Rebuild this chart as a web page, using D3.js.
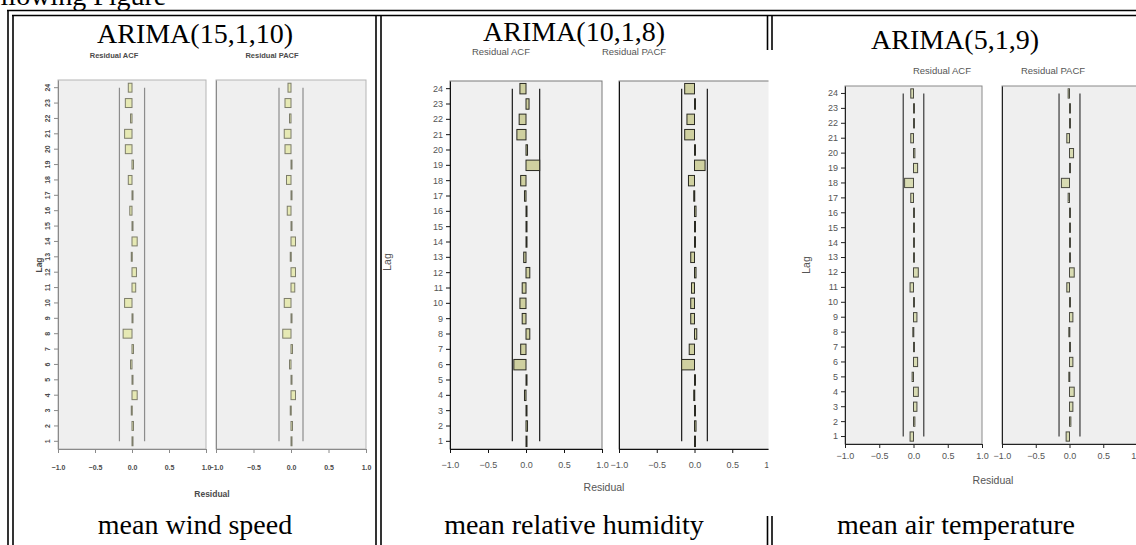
<!DOCTYPE html>
<html>
<head>
<meta charset="utf-8">
<script src="https://cdn.jsdelivr.net/npm/d3@7"></script>
<style>
  body { margin: 0; background: #fff; }
  svg { display: block; }
</style>
</head>
<body>
<div id="chart"></div>
<script>
// lags on the y axis of every panel
var lags = [1, 2, 3, 4, 5, 6, 7, 8, 9, 10, 11, 12, 13, 14, 15, 16, 17, 18, 19, 20, 21, 22, 23, 24];
var xTicks = [-1.0, -0.5, 0.0, 0.5, 1.0];

var modelNames = ["ARIMA(15,1,10)", "ARIMA(10,1,8)", "ARIMA(5,1,9)"];
var variableNames = ["mean wind speed", "mean relative humidity", "mean air temperature"];
var panelTitles = ["Residual ACF", "Residual PACF"];

// residual ACF / PACF values, lag 1 ... lag 24
var windAcf = [0.01, 0.02, -0.01, 0.07, 0.01, -0.02, 0.02, -0.12, 0.01, -0.10, 0.05, 0.06,
               -0.01, 0.07, 0.01, -0.03, 0.01, -0.05, 0.02, -0.09, -0.10, -0.02, -0.09, -0.05];
var windPacf = [0.01, 0.02, -0.01, 0.06, 0.01, -0.02, 0.02, -0.11, 0.01, -0.09, 0.05, 0.06,
                -0.01, 0.06, 0.01, -0.05, 0.01, -0.06, 0.01, -0.08, -0.09, -0.02, -0.08, -0.04];
var humAcf = [0.01, 0.02, 0.01, -0.02, 0.01, -0.16, -0.07, 0.05, -0.05, -0.08, -0.05, 0.05,
              -0.03, 0.01, 0.01, 0.01, -0.02, -0.07, 0.18, 0.02, -0.12, -0.09, 0.04, -0.08];
var humPacf = [0.01, 0.02, 0.01, -0.01, 0.01, -0.17, -0.07, 0.03, -0.05, -0.05, -0.04, 0.02,
               -0.05, 0.01, 0.01, 0.02, -0.01, -0.08, 0.14, 0.01, -0.13, -0.10, 0.01, -0.13];
var tempAcf = [-0.05, 0.02, 0.05, 0.07, -0.02, 0.06, 0.01, -0.01, 0.05, 0.01, -0.05, 0.07,
               0.01, 0.01, 0.01, 0.01, -0.04, -0.13, 0.06, 0.02, -0.04, 0.01, 0.01, -0.04];
var tempPacf = [-0.05, 0.02, 0.05, 0.07, -0.01, 0.05, 0.01, -0.01, 0.05, 0.01, -0.04, 0.07,
                0.01, 0.01, 0.01, 0.01, -0.02, -0.12, 0.01, 0.06, -0.04, 0.01, 0.01, -0.02];

// upper confidence limits (ACF, PACF), drawn at +/-
var windConf = [0.17, 0.16];
var humConf = [0.18, 0.17];
var tempConf = [0.15, 0.155];

var W = 1136, H = 545;

var svg = d3.select("#chart")
    .append("svg")
    .attr("width", W)
    .attr("height", H);

var serif = "'Liberation Serif', 'Times New Roman', serif";
var sans = "'Liberation Sans', Arial, sans-serif";

// text of the page above the table, partly cut off on the left
svg.append("text")
    .attr("x", -29)
    .attr("y", 5)
    .style("font-family", serif)
    .style("font-size", "28px")
    .text("Following Figure");

// double border lines of the table
function line(x1, y1, x2, y2) {
    svg.append("line")
        .attr("x1", x1).attr("y1", y1).attr("x2", x2).attr("y2", y2)
        .attr("stroke", "#000")
        .attr("stroke-width", 1.6);
}
line(7, 10.5, W, 10.5);
line(12, 15.5, W, 15.5);
line(8, 10, 8, H);
line(13, 15, 13, H);
line(376, 15.5, 376, H);
line(381, 15.5, 381, H);
line(767.5, 15.5, 767.5, 50);
line(772, 15.5, 772, 50);
line(767.5, 516, 767.5, H);
line(772, 516, 772, H);

var charts = [
    {
        acf: windAcf, pacf: windPacf, conf: windConf,
        acfX: [58, 206], pacfX: [216, 366], top: 80, bottom: 449,
        modelX: 195, modelY: 43, captionX: 195,
        titleY: 58, titleX: [114, 272], titleSize: 7.5, bold: true,
        lagTitle: [39, 265], tickY: 467, tickSize: 7, residual: [212, 494],
        rotateLags: true, pad: 0.42,
        panelFill: "#efefef", frame: "#b5b5b5", axis: "#8a8a8a",
        barFill: "#e6e9b4", barStroke: "#7d7d6a", confColor: "#8c8c8c",
        textColor: "#4a4a4a", clip: [14, 376]
    },
    {
        acf: humAcf, pacf: humPacf, conf: humConf,
        acfX: [450, 602], pacfX: [619, 770], top: 81, bottom: 449,
        modelX: 574, modelY: 41, captionX: 574,
        titleY: 55, titleX: [501, 634], titleSize: 9.5, bold: false,
        lagTitle: [387, 262], tickY: 465, tickSize: 9, residual: [604, 487],
        rotateLags: false, pad: 0.32,
        panelFill: "#f0f0f0", frame: "#7a7a7a", axis: "#111",
        barFill: "#cfd0a0", barStroke: "#2a2a22", confColor: "#1a1a1a",
        textColor: "#555", clip: [382, 768.5]
    },
    {
        acf: tempAcf, pacf: tempPacf, conf: tempConf,
        acfX: [845, 982], pacfX: [1002, 1137], top: 86, bottom: 444,
        modelX: 955, modelY: 49, captionX: 956,
        titleY: 74, titleX: [942, 1053], titleSize: 9.5, bold: false,
        lagTitle: [806, 265], tickY: 456, tickSize: 9, residual: [993, 480],
        rotateLags: false, pad: 0.38,
        panelFill: "#efefef", frame: "#8a8a8a", axis: "#222",
        barFill: "#d8dbb2", barStroke: "#4a4a40", confColor: "#3a3a3a",
        textColor: "#555", clip: [773, W]
    }
];

charts.forEach(function (c, i) {

    // cell title and caption
    svg.append("text")
        .attr("x", c.modelX).attr("y", c.modelY)
        .attr("text-anchor", "middle")
        .style("font-family", serif)
        .style("font-size", "28px")
        .text(modelNames[i]);

    svg.append("text")
        .attr("x", c.captionX).attr("y", 534)
        .attr("text-anchor", "middle")
        .style("font-family", serif)
        .style("font-size", "28px")
        .text(variableNames[i]);

    svg.append("clipPath")
        .attr("id", "clip" + i)
        .append("rect")
        .attr("x", c.clip[0]).attr("y", 0)
        .attr("width", c.clip[1] - c.clip[0]).attr("height", H);

    var g = svg.append("g").attr("clip-path", "url(#clip" + i + ")");

    // Y scale: one band per lag, lag 1 at the bottom
    var y = d3.scaleBand()
        .domain(lags)
        .range([c.bottom, c.top])
        .paddingInner(c.pad)
        .paddingOuter(c.pad / 2);

    [c.acf, c.pacf].forEach(function (values, p) {
        var xr = p == 0 ? c.acfX : c.pacfX;
        var x = d3.scaleLinear().domain([-1, 1]).range(xr);

        // plot background
        g.append("rect")
            .attr("x", xr[0]).attr("y", c.top)
            .attr("width", xr[1] - xr[0]).attr("height", c.bottom - c.top)
            .attr("fill", c.panelFill)
            .attr("stroke", c.frame)
            .attr("stroke-width", 1);

        // panel title
        g.append("text")
            .attr("x", c.titleX[p]).attr("y", c.titleY)
            .attr("text-anchor", "middle")
            .style("font-family", sans)
            .style("font-size", c.titleSize + "px")
            .style("font-weight", c.bold ? "bold" : "normal")
            .style("fill", c.textColor)
            .text(panelTitles[p]);

        // confidence limits
        [-1, 1].forEach(function (s) {
            g.append("line")
                .attr("x1", x(s * c.conf[p])).attr("x2", x(s * c.conf[p]))
                .attr("y1", y(24) + y.bandwidth() / 2)
                .attr("y2", y(1) + y.bandwidth() / 2)
                .attr("stroke", c.confColor)
                .attr("stroke-width", 1.2);
        });

        // bars from 0 to the value
        g.append("g")
            .selectAll("rect")
            .data(values)
            .enter()
            .append("rect")
            .attr("x", function (d) { return Math.min(x(0), x(d)); })
            .attr("y", function (d, k) { return y(lags[k]); })
            .attr("width", function (d) { return Math.max(1, Math.abs(x(d) - x(0))); })
            .attr("height", y.bandwidth())
            .attr("fill", c.barFill)
            .attr("stroke", c.barStroke)
            .attr("stroke-width", 1);

        // X axis
        var xa = g.append("g")
            .attr("transform", "translate(0," + c.bottom + ")")
            .call(d3.axisBottom(x)
                .tickValues(xTicks)
                .tickSize(4)
                .tickSizeOuter(0)
                .tickPadding(3)
                .tickFormat(d3.format(".1f")));
        xa.select(".domain").attr("stroke", c.axis);
        xa.selectAll(".tick line").attr("stroke", c.axis);
        xa.selectAll(".tick text")
            .attr("y", null).attr("dy", null)
            .attr("transform", "translate(0," + (c.tickY - c.bottom + 3) + ")")
            .style("font-family", sans)
            .style("font-size", c.tickSize + "px")
            .style("font-weight", c.bold ? "bold" : "normal")
            .style("fill", c.textColor);

        // Y axis, labels only on the ACF panel
        var ya = g.append("g")
            .attr("transform", "translate(" + xr[0] + ",0)")
            .call(d3.axisLeft(y)
                .tickSize(p == 0 ? 4 : 0)
                .tickSizeOuter(0)
                .tickPadding(3));
        ya.select(".domain").attr("stroke", c.axis);
        ya.selectAll(".tick line").attr("stroke", c.axis);
        if (p == 1) {
            ya.selectAll(".tick text").remove();
        } else {
            var lt = ya.selectAll(".tick text")
                .style("font-family", sans)
                .style("font-size", c.tickSize + "px")
                .style("font-weight", c.bold ? "bold" : "normal")
                .style("fill", c.textColor);
            if (c.rotateLags) {
                lt.attr("x", 0).attr("dy", "0.35em")
                    .attr("text-anchor", "middle")
                    .attr("transform", "translate(-10,0) rotate(-90)");
            }
        }
    });

    // axis titles
    g.append("text")
        .attr("transform", "translate(" + c.lagTitle[0] + "," + c.lagTitle[1] + ") rotate(-90)")
        .attr("text-anchor", "middle")
        .attr("dy", "0.35em")
        .style("font-family", sans)
        .style("font-size", (c.titleSize + 1) + "px")
        .style("font-weight", c.bold ? "bold" : "normal")
        .style("fill", c.textColor)
        .text("Lag");

    g.append("text")
        .attr("x", c.residual[0]).attr("y", c.residual[1])
        .attr("text-anchor", "middle")
        .attr("dy", "0.35em")
        .style("font-family", sans)
        .style("font-size", (c.titleSize + 1) + "px")
        .style("font-weight", c.bold ? "bold" : "normal")
        .style("fill", c.textColor)
        .text("Residual");
});
</script>
</body>
</html>
